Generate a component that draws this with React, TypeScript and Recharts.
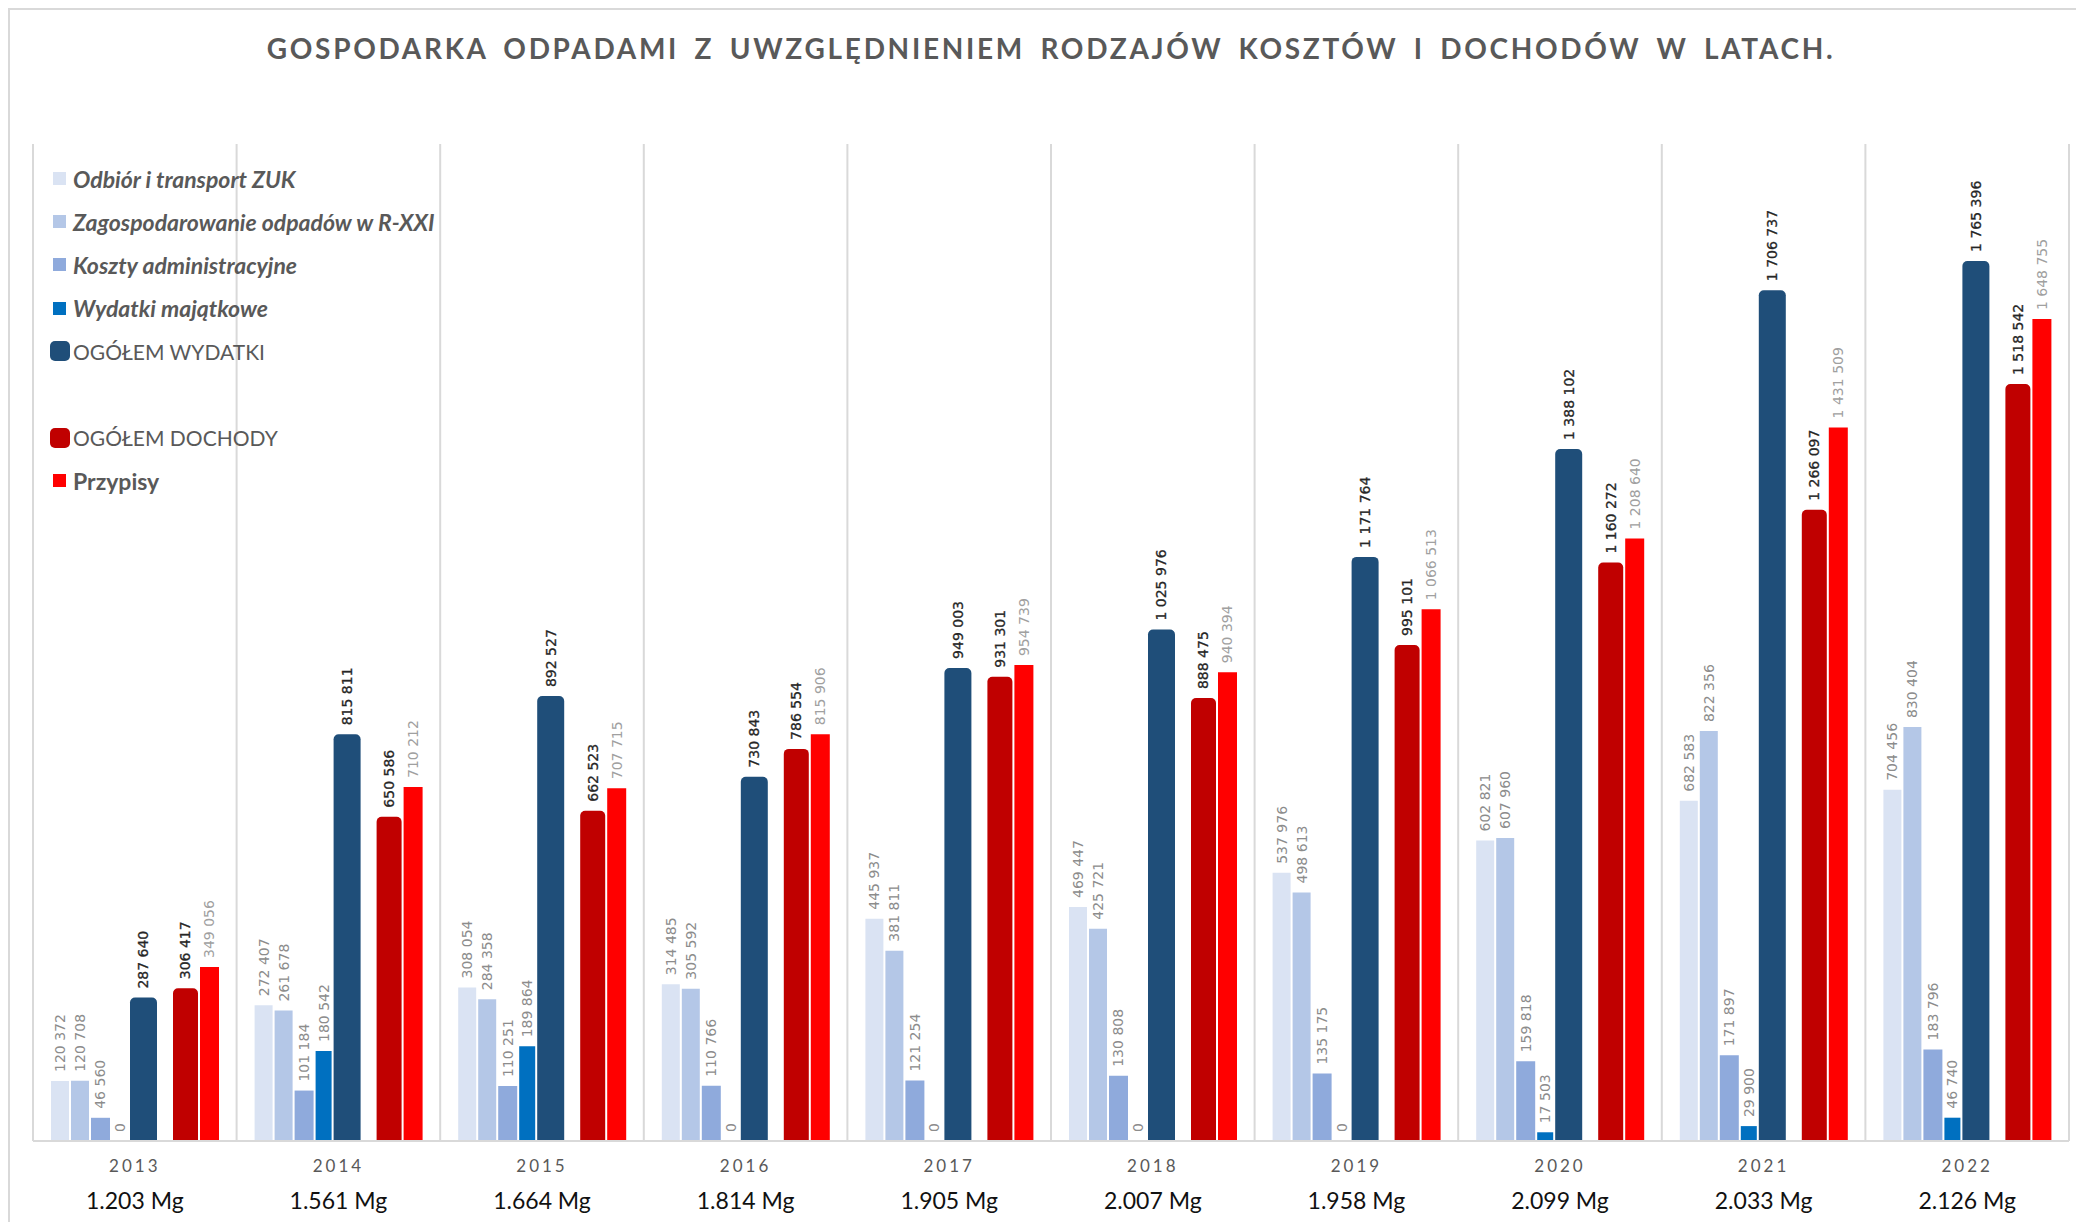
import React from "react";
import {
  BarChart,
  Bar,
  XAxis,
  YAxis,
  LabelList,
  CartesianGrid,
} from "recharts";

const YEARS = ["2013", "2014", "2015", "2016", "2017", "2018", "2019", "2020", "2021", "2022"];
const TONNAGE = ["1.203 Mg", "1.561 Mg", "1.664 Mg", "1.814 Mg", "1.905 Mg", "2.007 Mg", "1.958 Mg", "2.099 Mg", "2.033 Mg", "2.126 Mg"];

const ODBIOR = [120372, 272407, 308054, 314485, 445937, 469447, 537976, 602821, 682583, 704456];
const ZAGOSP = [120708, 261678, 284358, 305592, 381811, 425721, 498613, 607960, 822356, 830404];
const KOSZTY = [46560, 101184, 110251, 110766, 121254, 130808, 135175, 159818, 171897, 183796];
const MAJATKOWE = [0, 180542, 189864, 0, 0, 0, 0, 17503, 29900, 46740];
const WYDATKI = [287640, 815811, 892527, 730843, 949003, 1025976, 1171764, 1388102, 1706737, 1765396];
const DOCHODY = [306417, 650586, 662523, 786554, 931301, 888475, 995101, 1160272, 1266097, 1518542];
const PRZYPISY = [349056, 710212, 707715, 815906, 954739, 940394, 1066513, 1208640, 1431509, 1648755];

const data = YEARS.map((year, i) => ({
  year,
  tonnage: TONNAGE[i],
  odbior: ODBIOR[i],
  zagosp: ZAGOSP[i],
  koszty: KOSZTY[i],
  majatkowe: MAJATKOWE[i],
  wydatki: WYDATKI[i],
  dochody: DOCHODY[i],
  przypisy: PRZYPISY[i],
}));

const LEGEND = [
  { name: "Odbiór i transport ZUK", color: "#dae3f3", big: false, italic: true, weight: 700 },
  { name: "Zagospodarowanie odpadów w R-XXI", color: "#b4c7e7", big: false, italic: true, weight: 700 },
  { name: "Koszty administracyjne", color: "#8faadc", big: false, italic: true, weight: 700 },
  { name: "Wydatki majątkowe", color: "#0070c0", big: false, italic: true, weight: 700 },
  { name: "OGÓŁEM WYDATKI", color: "#1f4e79", big: true, italic: false, weight: 400 },
  { name: "", color: "", big: false, italic: false, weight: 400 },
  { name: "OGÓŁEM DOCHODY", color: "#c00000", big: true, italic: false, weight: 400 },
  { name: "Przypisy", color: "#ff0000", big: false, italic: false, weight: 700 },
];

const fmt = (v: number) => String(v).replace(/\B(?=(\d{3})+(?!\d))/g, " ");

// zero values still need their "0" label, so keep a hair-thin bar
const keepZero = (v: number) => (v === 0 ? 0.01 : 0);

function makeLabel(color: string, strong: boolean) {
  return (props: any) => {
    const x = Number(props.x);
    const y = Number(props.y);
    const w = Number(props.width);
    const cx = x + w / 2;
    const ty = y - 9;
    return (
      <text
        x={cx}
        y={ty}
        transform={`rotate(-90 ${cx} ${ty})`}
        textAnchor="start"
        dominantBaseline="central"
        fill={color}
        stroke={strong ? color : "none"}
        strokeWidth={strong ? 0.3 : 0}
        fontSize={14}
        fontFamily="'DejaVu Sans', sans-serif"
      >
        {fmt(Number(props.value))}
      </text>
    );
  };
}

function YearTick(props: any) {
  const { x, y, payload } = props;
  const row = data[payload.index];
  return (
    <g>
      <text
        x={x}
        y={y + 23}
        textAnchor="middle"
        fill="#595959"
        fontSize={17}
        letterSpacing={3}
        fontFamily="Lato, sans-serif"
      >
        {payload.value}
      </text>
      <text
        x={x}
        y={y + 60}
        textAnchor="middle"
        fill="#111"
        fontSize={23}
        fontFamily="Lato, sans-serif"
      >
        {row ? row.tonnage : ""}
      </text>
    </g>
  );
}

function LegendBox() {
  return (
    <div style={{ position: "absolute", left: 50, top: 157, fontFamily: "Lato, sans-serif", color: "#595959" }}>
      {LEGEND.map((l, i) => (
        <div key={i} style={{ display: "flex", alignItems: "center", height: 43.2 }}>
          {l.name && (
            <>
              <div
                style={{
                  width: l.big ? 20 : 13,
                  height: l.big ? 20 : 13,
                  marginLeft: l.big ? 0 : 3,
                  marginRight: l.big ? 3 : 7,
                  background: l.color,
                  borderRadius: l.big ? 5 : 0,
                }}
              />
              <span
                style={{
                  fontSize: l.big ? 21 : 23,
                  fontStyle: l.italic ? "italic" : "normal",
                  fontWeight: l.weight,
                }}
              >
                {l.name}
              </span>
            </>
          )}
        </div>
      ))}
    </div>
  );
}

// vertical separators on the boundaries of the year groups
const groupBoundaries = ({ offset }: any) =>
  Array.from({ length: YEARS.length + 1 }, (_, i) => offset.left + (i * offset.width) / YEARS.length);

export default function App() {
  return (
    <div style={{ position: "absolute", left: 0, top: 0, width: 2076, height: 1222, background: "#fff", overflow: "hidden" }}>
      <div
        style={{
          position: "absolute",
          left: 8,
          top: 8,
          width: 2100,
          height: 1300,
          borderLeft: "2px solid #d9d9d9",
          borderTop: "2px solid #d9d9d9",
        }}
      />
      <div
        style={{
          position: "absolute",
          left: 33,
          width: 2036,
          top: 31,
          textAlign: "center",
          fontFamily: "Lato, sans-serif",
          fontWeight: 700,
          fontSize: 28,
          letterSpacing: 2.7,
          wordSpacing: 6,
          color: "#595959",
        }}
      >
        GOSPODARKA ODPADAMI Z UWZGLĘDNIENIEM RODZAJÓW KOSZTÓW I DOCHODÓW W LATACH.
      </div>
      <div style={{ position: "absolute", left: 0, top: 0 }}>
        <BarChart
          width={2076}
          height={1222}
          data={data}
          margin={{ top: 144, right: 7, bottom: 0, left: 33 }}
          barGap={2}
        >
          <CartesianGrid
            horizontal={false}
            stroke="#d9d9d9"
            strokeWidth={2}
            verticalCoordinatesGenerator={groupBoundaries}
          />
          <XAxis
            dataKey="year"
            height={81}
            axisLine={{ stroke: "#d9d9d9", strokeWidth: 2 }}
            tickLine={false}
            tick={<YearTick />}
            interval={0}
          />
          <YAxis domain={[0, 2000000]} allowDataOverflow hide />
          <Bar dataKey="odbior" fill="#dae3f3" barSize={18} isAnimationActive={false}>
            <LabelList dataKey="odbior" content={makeLabel("#8c8c8c", false)} />
          </Bar>
          <Bar dataKey="zagosp" fill="#b4c7e7" barSize={18} isAnimationActive={false}>
            <LabelList dataKey="zagosp" content={makeLabel("#8c8c8c", false)} />
          </Bar>
          <Bar dataKey="koszty" fill="#8faadc" barSize={19} isAnimationActive={false}>
            <LabelList dataKey="koszty" content={makeLabel("#8c8c8c", false)} />
          </Bar>
          <Bar dataKey="majatkowe" fill="#0070c0" barSize={16} minPointSize={keepZero} isAnimationActive={false}>
            <LabelList dataKey="majatkowe" content={makeLabel("#8c8c8c", false)} />
          </Bar>
          <Bar dataKey="wydatki" fill="#1f4e79" barSize={27} radius={[5, 5, 0, 0]} isAnimationActive={false}>
            <LabelList dataKey="wydatki" content={makeLabel("#262626", true)} />
          </Bar>
          <Bar dataKey="spacer" fill="none" barSize={12} legendType="none" isAnimationActive={false} />
          <Bar dataKey="dochody" fill="#c00000" barSize={25} radius={[5, 5, 0, 0]} isAnimationActive={false}>
            <LabelList dataKey="dochody" content={makeLabel("#262626", true)} />
          </Bar>
          <Bar dataKey="przypisy" fill="#ff0000" barSize={19} isAnimationActive={false}>
            <LabelList dataKey="przypisy" content={makeLabel("#a0a0a0", false)} />
          </Bar>
        </BarChart>
      </div>
      <LegendBox />
    </div>
  );
}
